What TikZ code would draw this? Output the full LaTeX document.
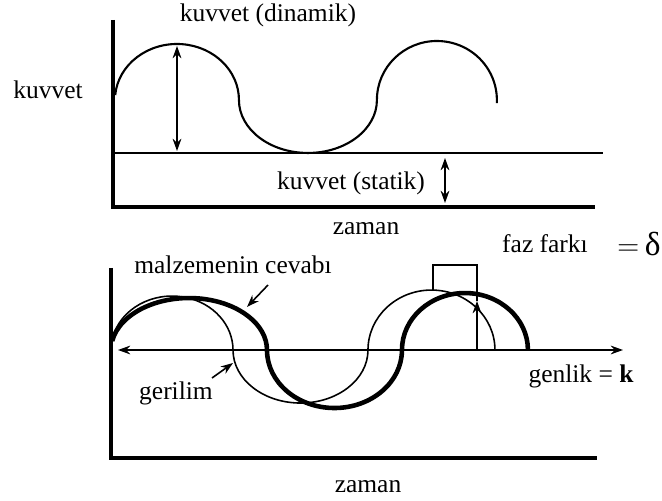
\documentclass[tikz,border=0pt]{standalone}
\usepackage{fontspec}
\setmainfont{Liberation Serif}
\usetikzlibrary{arrows.meta, positioning, calc}

\begin{document}
\begin{tikzpicture}[x=0.02cm, y=0.02cm, >={Stealth[length=7pt, width=5pt]}, font=\fontsize{14.5}{17}\selectfont]
				\useasboundingbox (0, 0) rectangle (662, 500);
				% ust grafik
				\coordinate (ta) at (113, 480);
				\coordinate (to) at (113, 293);
				\coordinate (tx) at (595, 293);
				\draw[line width=1.8pt] (ta) -- (to) -- (tx);
				\coordinate (s1) at (113, 347);
				\coordinate (s2) at (603, 347);
				\draw[line width=0.9pt] (s1) -- (s2);
				\coordinate (w0) at (115.2, 404.9);
				\draw[line width=1.2pt] (w0) arc[start angle=175, end angle=0, x radius=1.24cm, y radius=1.12cm]
					arc[start angle=180, end angle=360, x radius=1.38cm, y radius=1.06cm]
					arc[start angle=180, end angle=-3, x radius=1.2cm, y radius=1.18cm];
				\coordinate (d1) at (177, 454);
				\coordinate (d2) at (177, 349);
				\draw[<->, line width=0.9pt] (d1) -- (d2);
				\coordinate (st1) at (445, 342);
				\coordinate (st2) at (445, 297);
				\draw[<->, line width=0.9pt] (st1) -- (st2);
				\node (dinamik) at (268, 485) {kuvvet (dinamik)};
				\node (kuvvet) at (48, 410) {kuvvet};
				\node (statik) at (351, 317) {kuvvet (statik)};
				\node (zaman1) at (366, 271) {zaman};

				% alt grafik
				\coordinate (ba) at (111, 232);
				\coordinate (bo) at (111, 42);
				\coordinate (bx) at (597, 42);
				\draw[line width=1.8pt] (ba) -- (bo) -- (bx);
				\coordinate (g1) at (118, 150);
				\coordinate (g2) at (623, 150);
				\draw[<->, line width=0.9pt] (g1) -- (g2);
				% gerilim (ince)
				\coordinate (i0) at (112.6, 162.1);
				\draw[line width=0.9pt] (i0) arc[start angle=167, end angle=0, x radius=1.22cm, y radius=1.08cm]
					arc[start angle=180, end angle=360, x radius=1.35cm, y radius=1.06cm]
					arc[start angle=180, end angle=0, x radius=1.27cm, y radius=1.2cm];
				% malzemenin cevabi (kalin)
				\coordinate (k0) at (112.2, 159);
				\draw[line width=2.6pt] (k0) arc[start angle=170, end angle=0, x radius=1.56cm, y radius=1.04cm]
					arc[start angle=180, end angle=360, x radius=1.35cm, y radius=1.16cm]
					arc[start angle=180, end angle=0, x radius=1.26cm, y radius=1.14cm];
				% faz farki
				\coordinate (f1) at (433, 210);
				\coordinate (f2) at (433, 235);
				\coordinate (f3) at (477, 235);
				\coordinate (f4) at (477, 199);
				\coordinate (f5) at (477, 150);
				\draw[line width=0.9pt] (f1) -- (f2) -- (f3) -- (f4);
				\draw[->, line width=0.9pt] (f5) -- (f4);
				\node (faz) at (545, 256) {faz farkı};
				\node (delta) at (639, 256) {\fontsize{19}{22}\selectfont $=$\,δ};
				\node (cevap) at (233, 235) {malzemenin cevabı};
				\node (genlik) at (581, 124) {genlik = \textbf{k}};
				\node (gerilim) at (176, 107) {gerilim};
				\node (zaman2) at (368, 13) {zaman};
				\coordinate (c1) at (268, 215);
				\coordinate (c2) at (247, 193);
				\draw[->, line width=0.9pt] (c1) -- (c2);
				\coordinate (e1) at (212, 122);
				\coordinate (e2) at (233, 137);
				\draw[->, line width=0.9pt] (e1) -- (e2);
			\end{tikzpicture}
\end{document}
